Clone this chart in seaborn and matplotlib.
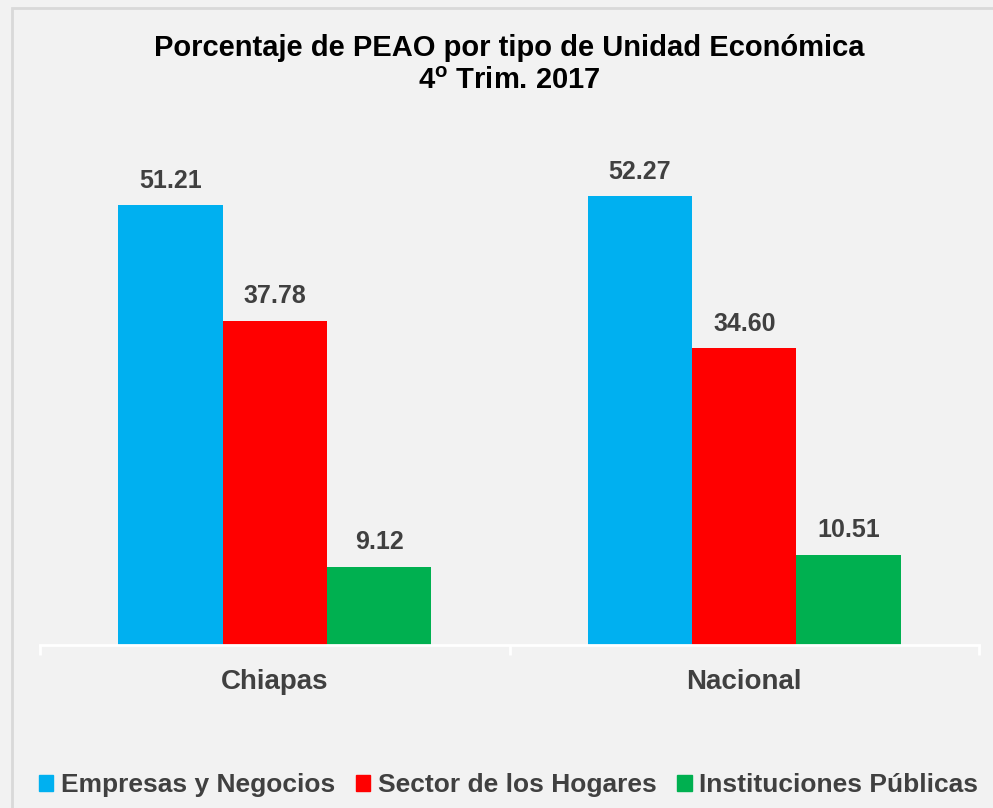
import matplotlib
matplotlib.use('Agg')
import matplotlib.pyplot as plt
import matplotlib.patches as mpatches
import pandas as pd
import seaborn as sns

# datos del grafico
regiones = ['Chiapas', 'Nacional']
tipos = ['Empresas y Negocios', 'Sector de los Hogares', 'Instituciones Públicas']
empresas = [51.21, 52.27]
hogares = [37.78, 34.60]
instituciones = [9.12, 10.51]
colores = ['#00B0F0', '#FF0000', '#00B050']

df = pd.DataFrame({
    'Region': regiones * 3,
    'Tipo': [tipos[0]] * 2 + [tipos[1]] * 2 + [tipos[2]] * 2,
    'Valor': empresas + hogares + instituciones,
})

sns.set_theme(style='white')
plt.rcParams['font.family'] = ['Liberation Sans', 'DejaVu Sans']
plt.rcParams['mathtext.fontset'] = 'custom'
plt.rcParams['mathtext.bf'] = 'Liberation Sans:bold'
plt.rcParams['mathtext.rm'] = 'Liberation Sans'

gris = '#404040'
fondo = '#F2F2F2'

fig = plt.figure(figsize=(9.93, 8.08), dpi=100, facecolor=fondo)
ax = fig.add_axes([40 / 993, 1 - 645 / 808, 939 / 993, 515 / 808])
ax.set_facecolor(fondo)

sns.barplot(data=df, x='Region', y='Valor', hue='Tipo', palette=colores,
            width=2 / 3, gap=0, saturation=1, linewidth=0, ax=ax, legend=False)

for cont in ax.containers:
    ax.bar_label(cont, fmt='%.2f', padding=9, fontsize=18, fontweight='bold', color=gris)

ax.set_xlim(-0.5, 1.5)
ax.set_ylim(0, 60)
ax.set_xlabel('')
ax.set_ylabel('')
ax.set_yticks([])
for s in ['top', 'right', 'left']:
    ax.spines[s].set_visible(False)
ax.spines['bottom'].set_color('white')
ax.spines['bottom'].set_linewidth(2)
ax.tick_params(axis='x', which='major', bottom=False, length=0, pad=17,
               labelsize=20, labelcolor=gris)
for lbl in ax.get_xticklabels():
    lbl.set_fontweight('bold')
ax.set_xticks([-0.5, 0.5, 1.5], minor=True)
ax.tick_params(axis='x', which='minor', bottom=True, length=7, width=2,
               color='white', direction='out')

# titulo
cx = 509.5 / 993
fig.text(cx, 1 - 56 / 808, 'Porcentaje de PEAO por tipo de Unidad Económica',
         ha='center', va='baseline', fontsize=21, fontweight='bold', color='black')
fig.text(cx, 1 - 89 / 808, r'4$^{\mathbf{o}}$ Trim. 2017',
         ha='center', va='baseline', fontsize=21, fontweight='bold', color='black')

# marco
fig.patches.append(mpatches.Rectangle((12 / 993, -0.1), 1.2, 1 - 8 / 808 + 0.1,
                                      transform=fig.transFigure, fill=False,
                                      edgecolor='#D9D9D9', linewidth=2))

handles = [mpatches.Patch(color=c, label=t) for c, t in zip(colores, tipos)]
fig.legend(handles=handles, loc='center', bbox_to_anchor=(508.5 / 993, 1 - 785 / 808),
           ncol=3, frameon=False, handlelength=0.55, handleheight=0.55,
           handletextpad=0.27, columnspacing=0.8, borderpad=0, borderaxespad=0,
           prop={'size': 19, 'weight': 'bold'}, labelcolor=gris)

fig.savefig('out.png', dpi=100, facecolor=fondo)
